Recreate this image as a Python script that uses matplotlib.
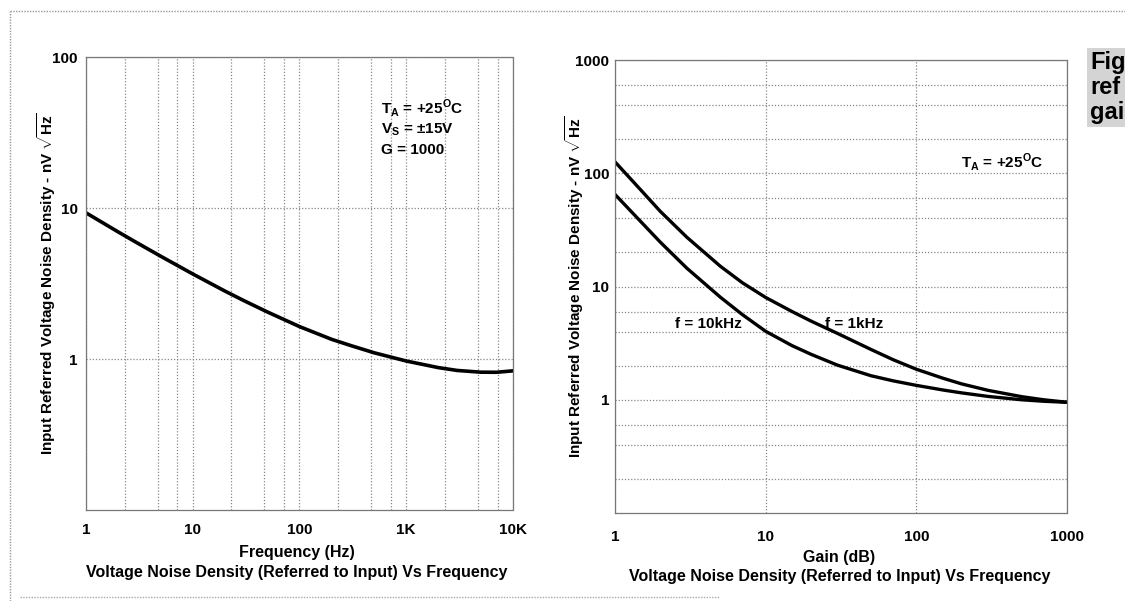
import matplotlib.pyplot as plt
import numpy as np
from matplotlib.ticker import FixedLocator, NullFormatter

plt.rcParams['font.family'] = ['Liberation Sans', 'DejaVu Sans']
plt.rcParams['font.weight'] = 'bold'
plt.rcParams['axes.labelweight'] = 'bold'
plt.rcParams['mathtext.fontset'] = 'custom'
plt.rcParams['mathtext.rm'] = 'Liberation Sans:bold'
plt.rcParams['mathtext.bf'] = 'Liberation Sans:bold'

# left chart: noise density vs frequency
freq = [1, 2, 3, 5, 10, 20, 30, 50, 100, 200, 300, 500, 1000, 2000, 3000, 5000, 7000, 10000]
noise_freq = [9.3, 6.95, 5.89, 4.80, 3.66, 2.82, 2.44, 2.05, 1.64, 1.35, 1.23, 1.10, 0.97, 0.877, 0.84, 0.818, 0.817, 0.835]
freq_ticks = [1, 10, 100, 1000, 10000]
freq_labels = ["1", "10", "100", "1K", "10K"]

# right chart: noise density vs gain
gain = [1, 1.5, 2, 3, 5, 7, 10, 15, 20, 30, 50, 70, 100, 150, 200, 300, 500, 700, 1000]
noise_1k = [126, 70, 46, 27.2, 15.1, 10.8, 8.0, 6.0, 4.95, 3.85, 2.78, 2.26, 1.86, 1.55, 1.38, 1.21, 1.065, 1.0, 0.95]
noise_10k = [65, 36.8, 24.6, 14.5, 8.05, 5.65, 4.02, 3.0, 2.52, 2.02, 1.63, 1.47, 1.34, 1.22, 1.15, 1.07, 1.0, 0.97, 0.95]
gain_ticks = [1, 10, 100, 1000]

FS = 11
grid_kw = dict(color="#888888", linestyle=(0, (1, 1.5)), linewidth=0.9)
ylabel = r"Input Referred Voltage Noise Density - nV $\sqrt{\mathbf{Hz}}$"

fig = plt.figure(figsize=(11.25, 6.01), dpi=100)

# ---- left
ax1 = fig.add_axes([0.0764, 0.1514, 0.3796, 0.7537])
ax1.set_xscale("log")
ax1.set_yscale("log")
ax1.set_xlim(1, 10000)
ax1.set_ylim(0.1, 100)
ax1.plot(freq, noise_freq, color="black", linewidth=2.6)
ax1.xaxis.set_major_locator(FixedLocator(freq_ticks))
ax1.set_xticklabels(freq_labels)
ax1.xaxis.set_minor_locator(FixedLocator([d * s for d in [1, 10, 100, 1000] for s in (2.3, 4.7, 7.2)]))
ax1.xaxis.set_minor_formatter(NullFormatter())
ax1.yaxis.set_major_locator(FixedLocator([1, 10, 100]))
ax1.set_yticklabels(["1", "10", "100"])
ax1.yaxis.set_minor_locator(FixedLocator([]))
ax1.grid(True, which="both", axis="x", **grid_kw)
ax1.grid(True, which="major", axis="y", **grid_kw)
ax1.text(0.69, 0.887, r"T$_\mathbf{A}$ = +25$^\mathbf{O}$C", transform=ax1.transAxes, fontsize=FS, va="center")
ax1.text(0.69, 0.840, r"V$_\mathbf{S}$ = ±15V", transform=ax1.transAxes, fontsize=FS, va="center")
ax1.text(0.69, 0.795, "G = 1000", transform=ax1.transAxes, fontsize=FS, va="center")
ax1.set_ylabel(ylabel, fontsize=FS)
ax1.yaxis.set_label_coords(-0.066, 0.5)
ax1.tick_params(axis="x", pad=9)
ax1.tick_params(axis="y", pad=6)

# ---- right
ax2 = fig.add_axes([0.5467, 0.1464, 0.4018, 0.7537])
ax2.set_xscale("log")
ax2.set_yscale("log")
ax2.set_xlim(1, 1000)
ax2.set_ylim(0.1, 1000)
ax2.plot(gain, noise_1k, color="black", linewidth=2.4)
ax2.plot(gain, noise_10k, color="black", linewidth=2.4)
ax2.xaxis.set_major_locator(FixedLocator(gain_ticks))
ax2.set_xticklabels([str(g) for g in gain_ticks])
ax2.xaxis.set_minor_locator(FixedLocator([]))
ax2.yaxis.set_major_locator(FixedLocator([1, 10, 100, 1000]))
ax2.set_yticklabels(["1", "10", "100", "1000"])
ax2.yaxis.set_minor_locator(FixedLocator([d * s for d in [0.1, 1, 10, 100] for s in (2, 4, 6)]))
ax2.yaxis.set_minor_formatter(NullFormatter())
ax2.grid(True, which="major", axis="x", **grid_kw)
ax2.grid(True, which="both", axis="y", **grid_kw)
ax2.text(0.765, 0.776, r"T$_\mathbf{A}$ = +25$^\mathbf{O}$C", transform=ax2.transAxes, fontsize=FS, va="center")
ax2.text(0.133, 0.417, "f = 10kHz", transform=ax2.transAxes, fontsize=FS, va="center")
ax2.text(0.465, 0.417, "f = 1kHz", transform=ax2.transAxes, fontsize=FS, va="center")
ax2.set_ylabel(ylabel, fontsize=FS)
ax2.yaxis.set_label_coords(-0.064, 0.5)
ax2.tick_params(axis="x", pad=12)
ax2.tick_params(axis="y", pad=4)

for ax in (ax1, ax2):
    ax.tick_params(which="both", length=0, labelsize=FS)
    for s in ax.spines.values():
        s.set_linestyle((0, (1, 1)))
        s.set_color("#777777")
        s.set_linewidth(0.9)

fig.text(0.2640, 0.080, "Frequency (Hz)", ha="center", va="center", fontsize=11.5)
fig.text(0.2640, 0.048, "Voltage Noise Density (Referred to Input) Vs Frequency", ha="center", va="center", fontsize=11.5)
fig.text(0.7460, 0.073, "Gain (dB)", ha="center", va="center", fontsize=11.5)
fig.text(0.7460, 0.040, "Voltage Noise Density (Referred to Input) Vs Frequency", ha="center", va="center", fontsize=11.5)

# cropped figure caption at the right edge of the scan
fig.text(0.9690, 0.915, "Fig\nref\ngai", fontsize=17, fontweight="bold", va="top", linespacing=1.1,
         bbox=dict(facecolor="#d4d4d4", edgecolor="none", pad=2))

# page border from the scan
fig.add_artist(plt.Line2D([0.009, 0.009], [0.0, 0.982], color="#999999", linestyle=(0, (1, 1)), linewidth=1))
fig.add_artist(plt.Line2D([0.009, 1.0], [0.982, 0.982], color="#999999", linestyle=(0, (1, 1)), linewidth=1))
fig.add_artist(plt.Line2D([0.018, 0.64], [0.006, 0.006], color="#aaaaaa", linestyle=(0, (1, 1)), linewidth=1))

fig.savefig("out.png", dpi=100)
